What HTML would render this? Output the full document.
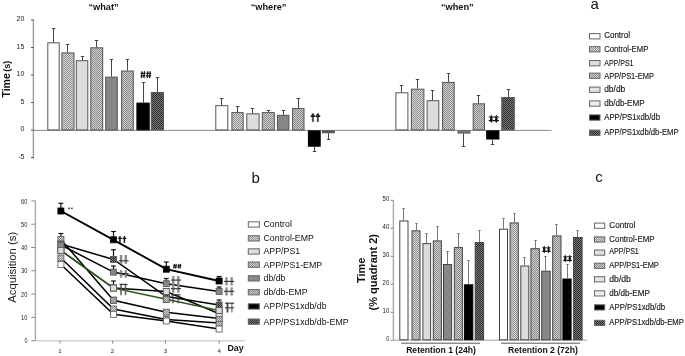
<!DOCTYPE html>
<html><head><meta charset="utf-8"><style>
html,body{margin:0;padding:0;background:#fff;}
body{width:685px;height:356px;overflow:hidden;}
svg{display:block;will-change:transform;font-family:"Liberation Sans",sans-serif;}
</style></head><body>
<svg width="685" height="356" viewBox="0 0 685 356">
<defs>
<pattern id="pL" width="2" height="2" patternUnits="userSpaceOnUse"><rect width="2" height="2" fill="#dadada"/><rect width="1" height="1" fill="#8e8e8e"/><rect x="1" y="1" width="1" height="1" fill="#8e8e8e"/></pattern>
<pattern id="pM" width="2" height="2" patternUnits="userSpaceOnUse"><rect width="2" height="2" fill="#d4d4d4"/><rect width="1" height="1" fill="#888"/><rect x="1" y="1" width="1" height="1" fill="#888"/></pattern>
<pattern id="pM2" width="2" height="2" patternUnits="userSpaceOnUse"><rect width="2" height="2" fill="#cfcfcf"/><rect width="1" height="1" fill="#858585"/><rect x="1" y="1" width="1" height="1" fill="#858585"/></pattern>
<pattern id="pD" width="2" height="2" patternUnits="userSpaceOnUse"><rect width="2" height="2" fill="#7a7a7a"/><rect width="1" height="1" fill="#2a2a2a"/><rect x="1" y="1" width="1" height="1" fill="#2a2a2a"/></pattern>
</defs>
<line x1="33.4" y1="19.5" x2="33.4" y2="158.5" stroke="#9a9a9a" stroke-width="1.4"/>
<line x1="31" y1="20" x2="33.5" y2="20" stroke="#555" stroke-width="1"/>
<text x="24.4" y="21.2" font-size="7" text-anchor="end" fill="#222">20</text>
<line x1="31" y1="47.5" x2="33.5" y2="47.5" stroke="#555" stroke-width="1"/>
<text x="24.4" y="48.7" font-size="7" text-anchor="end" fill="#222">15</text>
<line x1="31" y1="75" x2="33.5" y2="75" stroke="#555" stroke-width="1"/>
<text x="24.4" y="76.2" font-size="7" text-anchor="end" fill="#222">10</text>
<line x1="31" y1="102.5" x2="33.5" y2="102.5" stroke="#555" stroke-width="1"/>
<text x="24.4" y="103.7" font-size="7" text-anchor="end" fill="#222">5</text>
<line x1="31" y1="130" x2="33.5" y2="130" stroke="#555" stroke-width="1"/>
<text x="24.4" y="131.2" font-size="7" text-anchor="end" fill="#222">0</text>
<line x1="31" y1="157.5" x2="33.5" y2="157.5" stroke="#555" stroke-width="1"/>
<text x="24.4" y="158.7" font-size="7" text-anchor="end" fill="#222">-5</text>
<line x1="33" y1="130.4" x2="551.5" y2="130.4" stroke="#8a8a8a" stroke-width="1"/>
<text x="9.7" y="97.6" font-size="10.6" font-weight="bold" fill="#111" transform="rotate(-90 9.7 97.6)">Time<tspan font-size="9" dx="1.2">(s)</tspan></text>
<rect x="47.8" y="42.8" width="11.4" height="87.1" fill="#ffffff" stroke="#555" stroke-width="1"/>
<line x1="53.5" y1="42.3" x2="53.5" y2="28.5" stroke="#444" stroke-width="1"/>
<line x1="51.8" y1="28.5" x2="55.2" y2="28.5" stroke="#444" stroke-width="1"/>
<rect x="61.9" y="52.9" width="12.1" height="77" fill="url(#pL)" stroke="#555" stroke-width="1"/>
<line x1="67.5" y1="52.4" x2="67.5" y2="44.5" stroke="#444" stroke-width="1"/>
<line x1="65.8" y1="44.5" x2="69.2" y2="44.5" stroke="#444" stroke-width="1"/>
<rect x="76.3" y="60.7" width="11.5" height="69.2" fill="#dcdcdc" stroke="#555" stroke-width="1"/>
<line x1="82.5" y1="60.2" x2="82.5" y2="56.5" stroke="#444" stroke-width="1"/>
<line x1="80.8" y1="56.5" x2="84.2" y2="56.5" stroke="#444" stroke-width="1"/>
<rect x="90.8" y="47.8" width="11.9" height="82.1" fill="url(#pM)" stroke="#555" stroke-width="1"/>
<line x1="96.5" y1="47.3" x2="96.5" y2="40.5" stroke="#444" stroke-width="1"/>
<line x1="94.8" y1="40.5" x2="98.2" y2="40.5" stroke="#444" stroke-width="1"/>
<rect x="105.7" y="77.1" width="11.6" height="52.8" fill="#878787" stroke="#555" stroke-width="1"/>
<line x1="111.5" y1="76.6" x2="111.5" y2="59.5" stroke="#444" stroke-width="1"/>
<line x1="109.8" y1="59.5" x2="113.2" y2="59.5" stroke="#444" stroke-width="1"/>
<rect x="121.6" y="71" width="11.7" height="58.9" fill="url(#pM2)" stroke="#555" stroke-width="1"/>
<line x1="127.5" y1="70.5" x2="127.5" y2="59.5" stroke="#444" stroke-width="1"/>
<line x1="125.8" y1="59.5" x2="129.2" y2="59.5" stroke="#444" stroke-width="1"/>
<rect x="136.9" y="103.1" width="12.3" height="26.8" fill="#000000" stroke="#000" stroke-width="1"/>
<line x1="143.5" y1="102.6" x2="143.5" y2="82.5" stroke="#444" stroke-width="1"/>
<line x1="141.8" y1="82.5" x2="145.2" y2="82.5" stroke="#444" stroke-width="1"/>
<rect x="151.3" y="92.5" width="12.2" height="37.4" fill="url(#pD)" stroke="#555" stroke-width="1"/>
<line x1="157.5" y1="92" x2="157.5" y2="77.5" stroke="#444" stroke-width="1"/>
<line x1="155.8" y1="77.5" x2="159.2" y2="77.5" stroke="#444" stroke-width="1"/>
<rect x="215.8" y="105.7" width="12" height="24.2" fill="#ffffff" stroke="#555" stroke-width="1"/>
<line x1="221.5" y1="105.2" x2="221.5" y2="98.5" stroke="#444" stroke-width="1"/>
<line x1="219.8" y1="98.5" x2="223.2" y2="98.5" stroke="#444" stroke-width="1"/>
<rect x="231.9" y="112.6" width="11.3" height="17.3" fill="url(#pL)" stroke="#555" stroke-width="1"/>
<line x1="237.5" y1="112.1" x2="237.5" y2="106.5" stroke="#444" stroke-width="1"/>
<line x1="235.8" y1="106.5" x2="239.2" y2="106.5" stroke="#444" stroke-width="1"/>
<rect x="246.8" y="113.8" width="12.3" height="16.1" fill="#dcdcdc" stroke="#555" stroke-width="1"/>
<line x1="252.5" y1="113.3" x2="252.5" y2="108.5" stroke="#444" stroke-width="1"/>
<line x1="250.8" y1="108.5" x2="254.2" y2="108.5" stroke="#444" stroke-width="1"/>
<rect x="262.3" y="112.6" width="12" height="17.3" fill="url(#pM)" stroke="#555" stroke-width="1"/>
<line x1="268.5" y1="112.1" x2="268.5" y2="110.5" stroke="#444" stroke-width="1"/>
<line x1="266.8" y1="110.5" x2="270.2" y2="110.5" stroke="#444" stroke-width="1"/>
<rect x="277.5" y="115.3" width="11.4" height="14.6" fill="#878787" stroke="#555" stroke-width="1"/>
<line x1="283.5" y1="114.8" x2="283.5" y2="110.5" stroke="#444" stroke-width="1"/>
<line x1="281.8" y1="110.5" x2="285.2" y2="110.5" stroke="#444" stroke-width="1"/>
<rect x="292.6" y="108.6" width="11.4" height="21.3" fill="url(#pM2)" stroke="#555" stroke-width="1"/>
<line x1="298.5" y1="108.1" x2="298.5" y2="98.5" stroke="#444" stroke-width="1"/>
<line x1="296.8" y1="98.5" x2="300.2" y2="98.5" stroke="#444" stroke-width="1"/>
<rect x="308.4" y="130.9" width="11.8" height="15.3" fill="#000000" stroke="#000" stroke-width="1"/>
<line x1="314.5" y1="146.7" x2="314.5" y2="151.5" stroke="#444" stroke-width="1"/>
<line x1="312.8" y1="151.5" x2="316.2" y2="151.5" stroke="#444" stroke-width="1"/>
<rect x="322.5" y="130.9" width="11.8" height="1.9" fill="url(#pD)" stroke="#555" stroke-width="1"/>
<line x1="328.5" y1="133.3" x2="328.5" y2="139.5" stroke="#444" stroke-width="1"/>
<line x1="326.8" y1="139.5" x2="330.2" y2="139.5" stroke="#444" stroke-width="1"/>
<rect x="395.9" y="92.8" width="12" height="37.1" fill="#ffffff" stroke="#555" stroke-width="1"/>
<line x1="401.5" y1="92.3" x2="401.5" y2="85.5" stroke="#444" stroke-width="1"/>
<line x1="399.8" y1="85.5" x2="403.2" y2="85.5" stroke="#444" stroke-width="1"/>
<rect x="411.4" y="89.2" width="12.5" height="40.7" fill="url(#pL)" stroke="#555" stroke-width="1"/>
<line x1="417.5" y1="88.7" x2="417.5" y2="79.5" stroke="#444" stroke-width="1"/>
<line x1="415.8" y1="79.5" x2="419.2" y2="79.5" stroke="#444" stroke-width="1"/>
<rect x="427.1" y="100.7" width="11.7" height="29.2" fill="#dcdcdc" stroke="#555" stroke-width="1"/>
<line x1="432.5" y1="100.2" x2="432.5" y2="90.5" stroke="#444" stroke-width="1"/>
<line x1="430.8" y1="90.5" x2="434.2" y2="90.5" stroke="#444" stroke-width="1"/>
<rect x="442.6" y="82.4" width="11.6" height="47.5" fill="url(#pM)" stroke="#555" stroke-width="1"/>
<line x1="448.5" y1="81.9" x2="448.5" y2="73.5" stroke="#444" stroke-width="1"/>
<line x1="446.8" y1="73.5" x2="450.2" y2="73.5" stroke="#444" stroke-width="1"/>
<rect x="458" y="130.9" width="11.9" height="2.2" fill="#878787" stroke="#555" stroke-width="1"/>
<line x1="463.5" y1="133.6" x2="463.5" y2="146.5" stroke="#444" stroke-width="1"/>
<line x1="461.8" y1="146.5" x2="465.2" y2="146.5" stroke="#444" stroke-width="1"/>
<rect x="473.2" y="103.8" width="11.3" height="26.1" fill="url(#pM2)" stroke="#555" stroke-width="1"/>
<line x1="478.5" y1="103.3" x2="478.5" y2="95.5" stroke="#444" stroke-width="1"/>
<line x1="476.8" y1="95.5" x2="480.2" y2="95.5" stroke="#444" stroke-width="1"/>
<rect x="486.7" y="130.9" width="12.2" height="8.1" fill="#000000" stroke="#000" stroke-width="1"/>
<line x1="492.5" y1="139.5" x2="492.5" y2="144.5" stroke="#444" stroke-width="1"/>
<line x1="490.8" y1="144.5" x2="494.2" y2="144.5" stroke="#444" stroke-width="1"/>
<rect x="501.8" y="97.5" width="12.5" height="32.4" fill="url(#pD)" stroke="#555" stroke-width="1"/>
<line x1="508.5" y1="97" x2="508.5" y2="89.5" stroke="#444" stroke-width="1"/>
<line x1="506.8" y1="89.5" x2="510.2" y2="89.5" stroke="#444" stroke-width="1"/>
<text x="103.5" y="10.1" font-size="9.2" font-weight="bold" text-anchor="middle" fill="#111">“what”</text>
<text x="268.6" y="10.1" font-size="9.2" font-weight="bold" text-anchor="middle" fill="#111">“where”</text>
<text x="457.3" y="10.1" font-size="9.2" font-weight="bold" text-anchor="middle" fill="#111">“when”</text>
<line x1="142.16" y1="71.3" x2="141.46" y2="78.1" stroke="#111" stroke-width="1.2"/>
<line x1="144.59" y1="71.3" x2="143.89" y2="78.1" stroke="#111" stroke-width="1.2"/>
<rect x="140.6" y="72.74" width="4.85" height="1.2" fill="#111"/>
<rect x="140.6" y="75.19" width="4.85" height="1.2" fill="#111"/>
<line x1="147.81" y1="71.3" x2="147.11" y2="78.1" stroke="#111" stroke-width="1.2"/>
<line x1="150.24" y1="71.3" x2="149.54" y2="78.1" stroke="#111" stroke-width="1.2"/>
<rect x="146.25" y="72.74" width="4.85" height="1.2" fill="#111"/>
<rect x="146.25" y="75.19" width="4.85" height="1.2" fill="#111"/>
<rect x="311.9" y="113.8" width="2" height="8.1" fill="#555"/>
<rect x="310.6" y="115.4" width="4.6" height="1.6" fill="#111"/>
<rect x="311.7" y="113.6" width="2.4" height="2" fill="#222"/>
<rect x="316.9" y="113.8" width="2" height="8.1" fill="#555"/>
<rect x="315.6" y="115.4" width="4.6" height="1.6" fill="#111"/>
<rect x="316.7" y="113.6" width="2.4" height="2" fill="#222"/>
<path d="M491.3 114.5L492.5 117L492.5 120.6L491.3 123.3L490.1 120.6L490.1 117Z" fill="#111"/>
<path d="M496.3 114.5L497.5 117L497.5 120.6L496.3 123.3L495.1 120.6L495.1 117Z" fill="#111"/>
<rect x="488.7" y="116.44" width="10.2" height="1.12" fill="#333"/>
<rect x="488.7" y="119.96" width="10.2" height="1.28" fill="#111"/>
<text x="590.5" y="8.8" font-size="15" fill="#111">a</text>
<rect x="589.5" y="33.6" width="10.5" height="5.3" fill="#ffffff" stroke="#666" stroke-width="1"/>
<text x="604.2" y="38.3" font-size="8.6" fill="#1a1a1a" stroke="#1a1a1a" stroke-width="0.15" textLength="25.8" lengthAdjust="spacingAndGlyphs">Control</text>
<rect x="589.5" y="46.6" width="10.5" height="5.3" fill="url(#pL)" stroke="#666" stroke-width="1"/>
<text x="604.2" y="51.6" font-size="8.6" fill="#1a1a1a" stroke="#1a1a1a" stroke-width="0.15" textLength="44.1" lengthAdjust="spacingAndGlyphs">Control-EMP</text>
<rect x="589.5" y="60.5" width="10.5" height="5.3" fill="#dedede" stroke="#666" stroke-width="1"/>
<text x="604.2" y="65.5" font-size="8.6" fill="#1a1a1a" stroke="#1a1a1a" stroke-width="0.15" textLength="29.3" lengthAdjust="spacingAndGlyphs">APP/PS1</text>
<rect x="589.5" y="73.1" width="10.5" height="5.3" fill="url(#pM)" stroke="#666" stroke-width="1"/>
<text x="604.2" y="79" font-size="8.6" fill="#1a1a1a" stroke="#1a1a1a" stroke-width="0.15" textLength="49.7" lengthAdjust="spacingAndGlyphs">APP/PS1-EMP</text>
<rect x="589.5" y="87.1" width="10.5" height="5.3" fill="#e4e4e4" stroke="#666" stroke-width="1"/>
<text x="604.2" y="92.4" font-size="8.6" fill="#1a1a1a" stroke="#1a1a1a" stroke-width="0.15" textLength="21.1" lengthAdjust="spacingAndGlyphs">db/db</text>
<rect x="589.5" y="100.9" width="10.5" height="5.3" fill="#ececec" stroke="#666" stroke-width="1"/>
<text x="604.2" y="106" font-size="8.6" fill="#1a1a1a" stroke="#1a1a1a" stroke-width="0.15" textLength="40.4" lengthAdjust="spacingAndGlyphs">db/db-EMP</text>
<rect x="589.5" y="114.9" width="10.5" height="5.3" fill="#000" stroke="#666" stroke-width="1"/>
<text x="604.2" y="120.1" font-size="8.6" fill="#1a1a1a" stroke="#1a1a1a" stroke-width="0.15" textLength="55.8" lengthAdjust="spacingAndGlyphs">APP/PS1xdb/db</text>
<rect x="589.5" y="130.1" width="10.5" height="5.3" fill="url(#pD)" stroke="#666" stroke-width="1"/>
<text x="604.2" y="135.4" font-size="8.6" fill="#1a1a1a" stroke="#1a1a1a" stroke-width="0.15" textLength="74.4" lengthAdjust="spacingAndGlyphs">APP/PS1xdb/db-EMP</text>
<line x1="35.4" y1="200.8" x2="35.4" y2="340.7" stroke="#aaa" stroke-width="1.4"/>
<line x1="35.4" y1="340.7" x2="244.8" y2="340.7" stroke="#d2d2d2" stroke-width="1.6"/>
<line x1="31.4" y1="340.7" x2="35.4" y2="340.7" stroke="#888" stroke-width="1"/>
<text x="27.4" y="343.3" font-size="6.6" text-anchor="end" fill="#1a1a1a" textLength="3" lengthAdjust="spacingAndGlyphs">0</text>
<line x1="31.4" y1="317.4" x2="35.4" y2="317.4" stroke="#888" stroke-width="1"/>
<text x="27.4" y="320" font-size="6.6" text-anchor="end" fill="#1a1a1a" textLength="6.3" lengthAdjust="spacingAndGlyphs">10</text>
<line x1="31.4" y1="294.1" x2="35.4" y2="294.1" stroke="#888" stroke-width="1"/>
<text x="27.4" y="296.7" font-size="6.6" text-anchor="end" fill="#1a1a1a" textLength="6.3" lengthAdjust="spacingAndGlyphs">20</text>
<line x1="31.4" y1="270.8" x2="35.4" y2="270.8" stroke="#888" stroke-width="1"/>
<text x="27.4" y="273.4" font-size="6.6" text-anchor="end" fill="#1a1a1a" textLength="6.3" lengthAdjust="spacingAndGlyphs">30</text>
<line x1="31.4" y1="247.5" x2="35.4" y2="247.5" stroke="#888" stroke-width="1"/>
<text x="27.4" y="250.1" font-size="6.6" text-anchor="end" fill="#1a1a1a" textLength="6.3" lengthAdjust="spacingAndGlyphs">40</text>
<line x1="31.4" y1="224.2" x2="35.4" y2="224.2" stroke="#888" stroke-width="1"/>
<text x="27.4" y="226.8" font-size="6.6" text-anchor="end" fill="#1a1a1a" textLength="6.3" lengthAdjust="spacingAndGlyphs">50</text>
<line x1="31.4" y1="200.9" x2="35.4" y2="200.9" stroke="#888" stroke-width="1"/>
<text x="27.4" y="203.5" font-size="6.6" text-anchor="end" fill="#1a1a1a" textLength="6.3" lengthAdjust="spacingAndGlyphs">60</text>
<line x1="60" y1="340.7" x2="60" y2="343.6" stroke="#888" stroke-width="1"/>
<text x="60" y="352.8" font-size="6.2" text-anchor="middle" fill="#222">1</text>
<line x1="112.6" y1="340.7" x2="112.6" y2="343.6" stroke="#888" stroke-width="1"/>
<text x="112.6" y="352.8" font-size="6.2" text-anchor="middle" fill="#222">2</text>
<line x1="165.5" y1="340.7" x2="165.5" y2="343.6" stroke="#888" stroke-width="1"/>
<text x="165.5" y="352.8" font-size="6.2" text-anchor="middle" fill="#222">3</text>
<line x1="219.2" y1="340.7" x2="219.2" y2="343.6" stroke="#888" stroke-width="1"/>
<text x="219.2" y="352.8" font-size="6.2" text-anchor="middle" fill="#222">4</text>
<text x="227.5" y="350.9" font-size="9.6" font-weight="bold" fill="#111" textLength="16.2" lengthAdjust="spacingAndGlyphs">Day</text>
<text x="15.7" y="267.3" font-size="11.3" text-anchor="middle" fill="#222" transform="rotate(-90 15.7 267.3)">Acquisition (s)</text>
<polyline points="60.9,258 113.5,309 166.3,319.6 219.1,323.1" fill="none" stroke="#000" stroke-width="1.5"/>
<polyline points="60.9,264.5 113.5,314.3 166.3,321 219.1,329" fill="none" stroke="#000" stroke-width="1.5"/>
<polyline points="60.9,239.5 113.5,300.2 166.3,312.2 219.1,318.5" fill="none" stroke="#000" stroke-width="1.5"/>
<polyline points="60.9,250.5 113.5,288 166.3,291.6 219.1,313.7" fill="none" stroke="#000" stroke-width="1.5"/>
<polyline points="60.9,244 113.5,259.5 166.3,296.5 219.1,305" fill="none" stroke="#000" stroke-width="1.5"/>
<polyline points="60.9,250.5 113.5,288 166.3,299.3 219.1,310.5" fill="none" stroke="#2f5a1f" stroke-width="1.5"/>
<polyline points="60.9,245 113.5,272.1 166.3,283.7 219.1,291.5" fill="none" stroke="#000" stroke-width="1.5"/>
<polyline points="60.9,211 113.5,239.8 166.3,269.2 219.1,281" fill="none" stroke="#000" stroke-width="1.9"/>
<rect x="60.3" y="203.3" width="1.2" height="7.7" fill="#111"/>
<rect x="58.5" y="202.7" width="4.8" height="1.2" fill="#111"/>
<rect x="112.9" y="231.5" width="1.2" height="8.3" fill="#111"/>
<rect x="111.1" y="230.9" width="4.8" height="1.2" fill="#111"/>
<rect x="165.7" y="262" width="1.2" height="6.6" fill="#111"/>
<rect x="163.9" y="261.4" width="4.8" height="1.2" fill="#111"/>
<rect x="218.5" y="276.5" width="1.2" height="4.5" fill="#111"/>
<rect x="216.7" y="275.9" width="4.8" height="1.2" fill="#111"/>
<rect x="60.3" y="233.5" width="1.2" height="4.9" fill="#111"/>
<rect x="58.5" y="232.9" width="4.8" height="1.2" fill="#111"/>
<rect x="112.9" y="249.7" width="1.2" height="10.2" fill="#111"/>
<rect x="111.1" y="249.1" width="4.8" height="1.2" fill="#111"/>
<rect x="112.9" y="266" width="1.2" height="6.4" fill="#111"/>
<rect x="111.1" y="265.4" width="4.8" height="1.2" fill="#111"/>
<rect x="112.9" y="281" width="1.2" height="7.4" fill="#111"/>
<rect x="111.1" y="280.4" width="4.8" height="1.2" fill="#111"/>
<rect x="165.7" y="278.5" width="1.2" height="5.1" fill="#111"/>
<rect x="163.9" y="277.9" width="4.8" height="1.2" fill="#111"/>
<rect x="218.5" y="287" width="1.2" height="4.5" fill="#111"/>
<rect x="216.7" y="286.4" width="4.8" height="1.2" fill="#111"/>
<rect x="218.5" y="300" width="1.2" height="4.6" fill="#111"/>
<rect x="216.7" y="299.4" width="4.8" height="1.2" fill="#111"/>
<rect x="57.9" y="255" width="6" height="6" fill="url(#pL)" stroke="#555" stroke-width="0.8"/>
<rect x="110.5" y="306" width="6" height="6" fill="url(#pL)" stroke="#555" stroke-width="0.8"/>
<rect x="163.3" y="316.6" width="6" height="6" fill="url(#pL)" stroke="#555" stroke-width="0.8"/>
<rect x="216.1" y="320.1" width="6" height="6" fill="url(#pL)" stroke="#555" stroke-width="0.8"/>
<rect x="57.9" y="261.5" width="6" height="6" fill="#ffffff" stroke="#555" stroke-width="0.8"/>
<rect x="110.5" y="311.3" width="6" height="6" fill="#ffffff" stroke="#555" stroke-width="0.8"/>
<rect x="163.3" y="318" width="6" height="6" fill="#ffffff" stroke="#555" stroke-width="0.8"/>
<rect x="216.1" y="326" width="6" height="6" fill="#ffffff" stroke="#555" stroke-width="0.8"/>
<rect x="57.9" y="236.5" width="6" height="6" fill="url(#pM)" stroke="#555" stroke-width="0.8"/>
<rect x="110.5" y="297.2" width="6" height="6" fill="url(#pM)" stroke="#555" stroke-width="0.8"/>
<rect x="163.3" y="309.2" width="6" height="6" fill="url(#pM)" stroke="#555" stroke-width="0.8"/>
<rect x="216.1" y="315.5" width="6" height="6" fill="url(#pM)" stroke="#555" stroke-width="0.8"/>
<rect x="57.9" y="247.5" width="6" height="6" fill="#dcdcdc" stroke="#555" stroke-width="0.8"/>
<rect x="110.5" y="285" width="6" height="6" fill="#dcdcdc" stroke="#555" stroke-width="0.8"/>
<rect x="163.3" y="288.6" width="6" height="6" fill="#dcdcdc" stroke="#555" stroke-width="0.8"/>
<rect x="216.1" y="310.7" width="6" height="6" fill="#dcdcdc" stroke="#555" stroke-width="0.8"/>
<rect x="57.9" y="241" width="6" height="6" fill="url(#pD)" stroke="#555" stroke-width="0.8"/>
<rect x="110.5" y="256.5" width="6" height="6" fill="url(#pD)" stroke="#555" stroke-width="0.8"/>
<rect x="163.3" y="293.5" width="6" height="6" fill="url(#pD)" stroke="#555" stroke-width="0.8"/>
<rect x="216.1" y="302" width="6" height="6" fill="url(#pD)" stroke="#555" stroke-width="0.8"/>
<rect x="57.9" y="247.5" width="6" height="6" fill="url(#pM2)" stroke="#555" stroke-width="0.8"/>
<rect x="110.5" y="285" width="6" height="6" fill="url(#pM2)" stroke="#555" stroke-width="0.8"/>
<rect x="163.3" y="296.3" width="6" height="6" fill="url(#pM2)" stroke="#555" stroke-width="0.8"/>
<rect x="216.1" y="307.5" width="6" height="6" fill="url(#pM2)" stroke="#555" stroke-width="0.8"/>
<rect x="57.9" y="242" width="6" height="6" fill="#878787" stroke="#555" stroke-width="0.8"/>
<rect x="110.5" y="269.1" width="6" height="6" fill="#878787" stroke="#555" stroke-width="0.8"/>
<rect x="163.3" y="280.7" width="6" height="6" fill="#878787" stroke="#555" stroke-width="0.8"/>
<rect x="216.1" y="288.5" width="6" height="6" fill="#878787" stroke="#555" stroke-width="0.8"/>
<rect x="57.9" y="208" width="6" height="6" fill="#000000" stroke="#000" stroke-width="0.8"/>
<rect x="110.5" y="236.8" width="6" height="6" fill="#000000" stroke="#000" stroke-width="0.8"/>
<rect x="163.3" y="266.2" width="6" height="6" fill="#000000" stroke="#000" stroke-width="0.8"/>
<rect x="216.1" y="278" width="6" height="6" fill="#000000" stroke="#000" stroke-width="0.8"/>
<rect x="57.9" y="247.5" width="6" height="6" fill="#dcdcdc" stroke="#555" stroke-width="0.8"/>
<rect x="110.5" y="285" width="6" height="6" fill="#dcdcdc" stroke="#555" stroke-width="0.8"/>
<rect x="163.3" y="288.6" width="6" height="6" fill="#dcdcdc" stroke="#555" stroke-width="0.8"/>
<rect x="163.3" y="296.3" width="6" height="6" fill="url(#pM2)" stroke="#555" stroke-width="0.8"/>
<rect x="216.1" y="307.5" width="6" height="6" fill="#dcdcdc" stroke="#555" stroke-width="0.8"/>
<rect x="110.5" y="297.2" width="6" height="6" fill="#a2a2a2" stroke="#555" stroke-width="0.8"/>
<rect x="68.2" y="207.6" width="1.6" height="1.5" fill="#333"/>
<rect x="71.1" y="207.6" width="1.6" height="1.5" fill="#333"/>
<rect x="119.15" y="236.1" width="1.5" height="6.8" fill="#111"/>
<rect x="118" y="237.75" width="3.8" height="1.3" fill="#111"/>
<rect x="123.65" y="236.1" width="1.5" height="6.8" fill="#111"/>
<rect x="122.5" y="237.75" width="3.8" height="1.3" fill="#111"/>
<line x1="174.45" y1="263.9" x2="173.75" y2="268.6" stroke="#111" stroke-width="1"/>
<line x1="176.25" y1="263.9" x2="175.55" y2="268.6" stroke="#111" stroke-width="1"/>
<rect x="173.2" y="264.81" width="3.6" height="1" fill="#111"/>
<rect x="173.2" y="266.5" width="3.6" height="1" fill="#111"/>
<line x1="178.85" y1="263.9" x2="178.15" y2="268.6" stroke="#111" stroke-width="1"/>
<line x1="180.65" y1="263.9" x2="179.95" y2="268.6" stroke="#111" stroke-width="1"/>
<rect x="177.6" y="264.81" width="3.6" height="1" fill="#111"/>
<rect x="177.6" y="266.5" width="3.6" height="1" fill="#111"/>
<rect x="119.9" y="255" width="2.4" height="8.9" fill="#8c8c8c"/>
<rect x="124.6" y="255" width="2.4" height="8.9" fill="#8c8c8c"/>
<rect x="118.7" y="260.25" width="9.9" height="1.1" fill="#333"/>
<rect x="119.9" y="270.2" width="2.4" height="7.5" fill="#8c8c8c"/>
<rect x="124.6" y="270.2" width="2.4" height="7.5" fill="#8c8c8c"/>
<rect x="118.7" y="273.05" width="9.9" height="1.1" fill="#333"/>
<rect x="120.2" y="283.8" width="1.6" height="11.4" fill="#666"/>
<rect x="124.7" y="283.8" width="1.6" height="11.4" fill="#666"/>
<rect x="119.4" y="283.85" width="8.1" height="1.1" fill="#333"/>
<rect x="119.4" y="288.45" width="8.1" height="1.1" fill="#333"/>
<rect x="172.1" y="276.1" width="2.4" height="16.6" fill="#8c8c8c"/>
<rect x="177.1" y="276.1" width="2.4" height="16.6" fill="#8c8c8c"/>
<rect x="171" y="279.55" width="10" height="1.1" fill="#333"/>
<rect x="171" y="288.15" width="10" height="1.1" fill="#333"/>
<rect x="172.4" y="294.2" width="1.2" height="9.1" fill="#444"/>
<rect x="177.5" y="294.2" width="1.2" height="9.1" fill="#444"/>
<rect x="171" y="294.25" width="9.5" height="1.1" fill="#333"/>
<rect x="225.3" y="277.1" width="2.4" height="8.3" fill="#8c8c8c"/>
<rect x="230.4" y="277.1" width="2.4" height="8.3" fill="#8c8c8c"/>
<rect x="224" y="280.85" width="10.2" height="1.1" fill="#333"/>
<rect x="225.3" y="287.4" width="2.4" height="8.2" fill="#8c8c8c"/>
<rect x="230.4" y="287.4" width="2.4" height="8.2" fill="#8c8c8c"/>
<rect x="224" y="290.75" width="10.2" height="1.1" fill="#333"/>
<rect x="226.6" y="302.7" width="1.8" height="9.8" fill="#444"/>
<rect x="230.9" y="302.7" width="1.8" height="9.8" fill="#999"/>
<rect x="225" y="302.65" width="9.1" height="1.1" fill="#333"/>
<rect x="225" y="307.25" width="9.1" height="1.1" fill="#333"/>
<text x="251.6" y="182.8" font-size="15" fill="#111">b</text>
<rect x="248.3" y="221.8" width="11" height="5.3" fill="#ffffff" stroke="#666" stroke-width="1"/>
<text x="263.5" y="227.4" font-size="8.8" fill="#111">Control</text>
<rect x="248.3" y="235.7" width="11" height="5.3" fill="url(#pL)" stroke="#666" stroke-width="1"/>
<text x="263.5" y="241.3" font-size="8.8" fill="#111">Control-EMP</text>
<rect x="248.3" y="248.8" width="11" height="5.3" fill="#dedede" stroke="#666" stroke-width="1"/>
<text x="263.5" y="254.4" font-size="8.8" fill="#111">APP/PS1</text>
<rect x="248.3" y="262" width="11" height="5.3" fill="url(#pM)" stroke="#666" stroke-width="1"/>
<text x="263.5" y="267.6" font-size="8.8" fill="#111">APP/PS1-EMP</text>
<rect x="248.3" y="275.7" width="11" height="5.3" fill="#8a8a8a" stroke="#666" stroke-width="1"/>
<text x="263.5" y="281.3" font-size="8.8" fill="#111">db/db</text>
<rect x="248.3" y="289.6" width="11" height="5.3" fill="url(#pM2)" stroke="#666" stroke-width="1"/>
<text x="263.5" y="295.2" font-size="8.8" fill="#111">db/db-EMP</text>
<rect x="248.3" y="303.8" width="11" height="5.3" fill="#000" stroke="#666" stroke-width="1"/>
<text x="263.5" y="309.4" font-size="8.8" fill="#111">APP/PS1xdb/db</text>
<rect x="248.3" y="319" width="11" height="5.3" fill="url(#pD)" stroke="#666" stroke-width="1"/>
<text x="263.5" y="324.6" font-size="8.8" fill="#111">APP/PS1xdb/db-EMP</text>
<line x1="393.4" y1="200.3" x2="393.4" y2="340.3" stroke="#aaa" stroke-width="1.4"/>
<line x1="393.4" y1="340.3" x2="587" y2="340.3" stroke="#c0c0c0" stroke-width="1.5"/>
<line x1="390.5" y1="340.3" x2="393.4" y2="340.3" stroke="#888" stroke-width="1"/>
<text x="389.2" y="340.8" font-size="6.6" text-anchor="end" fill="#1a1a1a" textLength="3" lengthAdjust="spacingAndGlyphs">0</text>
<line x1="390.5" y1="312.3" x2="393.4" y2="312.3" stroke="#888" stroke-width="1"/>
<text x="389.2" y="312.8" font-size="6.6" text-anchor="end" fill="#1a1a1a" textLength="6.6" lengthAdjust="spacingAndGlyphs">10</text>
<line x1="390.5" y1="284.3" x2="393.4" y2="284.3" stroke="#888" stroke-width="1"/>
<text x="389.2" y="284.8" font-size="6.6" text-anchor="end" fill="#1a1a1a" textLength="6.6" lengthAdjust="spacingAndGlyphs">20</text>
<line x1="390.5" y1="256.3" x2="393.4" y2="256.3" stroke="#888" stroke-width="1"/>
<text x="389.2" y="256.8" font-size="6.6" text-anchor="end" fill="#1a1a1a" textLength="6.6" lengthAdjust="spacingAndGlyphs">30</text>
<line x1="390.5" y1="228.3" x2="393.4" y2="228.3" stroke="#888" stroke-width="1"/>
<text x="389.2" y="228.8" font-size="6.6" text-anchor="end" fill="#1a1a1a" textLength="6.6" lengthAdjust="spacingAndGlyphs">40</text>
<line x1="390.5" y1="200.3" x2="393.4" y2="200.3" stroke="#888" stroke-width="1"/>
<text x="389.2" y="200.8" font-size="6.6" text-anchor="end" fill="#1a1a1a" textLength="6.6" lengthAdjust="spacingAndGlyphs">50</text>
<rect x="399.8" y="221" width="8.2" height="118.8" fill="#ffffff" stroke="#444" stroke-width="1"/>
<line x1="403.5" y1="220.5" x2="403.5" y2="208.5" stroke="#777" stroke-width="1"/>
<line x1="402.3" y1="208.5" x2="404.7" y2="208.5" stroke="#777" stroke-width="1"/>
<rect x="412" y="230.8" width="8" height="109" fill="url(#pL)" stroke="#444" stroke-width="1"/>
<line x1="416.5" y1="230.3" x2="416.5" y2="223.5" stroke="#777" stroke-width="1"/>
<line x1="415.3" y1="223.5" x2="417.7" y2="223.5" stroke="#777" stroke-width="1"/>
<rect x="422.9" y="243.6" width="7.7" height="96.2" fill="#dcdcdc" stroke="#444" stroke-width="1"/>
<line x1="426.5" y1="243.1" x2="426.5" y2="233.5" stroke="#777" stroke-width="1"/>
<line x1="425.3" y1="233.5" x2="427.7" y2="233.5" stroke="#777" stroke-width="1"/>
<rect x="433.3" y="240.9" width="8.1" height="98.9" fill="url(#pM)" stroke="#444" stroke-width="1"/>
<line x1="437.5" y1="240.4" x2="437.5" y2="226.5" stroke="#777" stroke-width="1"/>
<line x1="436.3" y1="226.5" x2="438.7" y2="226.5" stroke="#777" stroke-width="1"/>
<rect x="443.5" y="264.5" width="8.1" height="75.3" fill="#878787" stroke="#444" stroke-width="1"/>
<line x1="447.5" y1="264" x2="447.5" y2="251.5" stroke="#777" stroke-width="1"/>
<line x1="446.3" y1="251.5" x2="448.7" y2="251.5" stroke="#777" stroke-width="1"/>
<rect x="454.3" y="247.6" width="8.1" height="92.2" fill="url(#pM2)" stroke="#444" stroke-width="1"/>
<line x1="458.5" y1="247.1" x2="458.5" y2="233.5" stroke="#777" stroke-width="1"/>
<line x1="457.3" y1="233.5" x2="459.7" y2="233.5" stroke="#777" stroke-width="1"/>
<rect x="464.4" y="284.8" width="8.4" height="55" fill="#000000" stroke="#000" stroke-width="1"/>
<line x1="468.5" y1="284.3" x2="468.5" y2="260.5" stroke="#777" stroke-width="1"/>
<line x1="467.3" y1="260.5" x2="469.7" y2="260.5" stroke="#777" stroke-width="1"/>
<rect x="475.2" y="242.6" width="8.4" height="97.2" fill="url(#pD)" stroke="#444" stroke-width="1"/>
<line x1="479.5" y1="242.1" x2="479.5" y2="230.5" stroke="#777" stroke-width="1"/>
<line x1="478.3" y1="230.5" x2="480.7" y2="230.5" stroke="#777" stroke-width="1"/>
<rect x="499.5" y="229.2" width="8" height="110.6" fill="#ffffff" stroke="#444" stroke-width="1"/>
<line x1="503.5" y1="228.7" x2="503.5" y2="218.5" stroke="#777" stroke-width="1"/>
<line x1="502.3" y1="218.5" x2="504.7" y2="218.5" stroke="#777" stroke-width="1"/>
<rect x="510.1" y="222.9" width="8.2" height="116.9" fill="url(#pL)" stroke="#444" stroke-width="1"/>
<line x1="514.5" y1="222.4" x2="514.5" y2="213.5" stroke="#777" stroke-width="1"/>
<line x1="513.3" y1="213.5" x2="515.7" y2="213.5" stroke="#777" stroke-width="1"/>
<rect x="520.8" y="266" width="8" height="73.8" fill="#dcdcdc" stroke="#444" stroke-width="1"/>
<line x1="524.5" y1="265.5" x2="524.5" y2="257.5" stroke="#777" stroke-width="1"/>
<line x1="523.3" y1="257.5" x2="525.7" y2="257.5" stroke="#777" stroke-width="1"/>
<rect x="530.9" y="248.7" width="8.5" height="91.1" fill="url(#pM)" stroke="#444" stroke-width="1"/>
<line x1="535.5" y1="248.2" x2="535.5" y2="240.5" stroke="#777" stroke-width="1"/>
<line x1="534.3" y1="240.5" x2="536.7" y2="240.5" stroke="#777" stroke-width="1"/>
<rect x="541.7" y="271.2" width="8.5" height="68.6" fill="#878787" stroke="#444" stroke-width="1"/>
<line x1="545.5" y1="270.7" x2="545.5" y2="256.5" stroke="#777" stroke-width="1"/>
<line x1="544.3" y1="256.5" x2="546.7" y2="256.5" stroke="#777" stroke-width="1"/>
<rect x="552.7" y="235.9" width="8.3" height="103.9" fill="url(#pM2)" stroke="#444" stroke-width="1"/>
<line x1="556.5" y1="235.4" x2="556.5" y2="224.5" stroke="#777" stroke-width="1"/>
<line x1="555.3" y1="224.5" x2="557.7" y2="224.5" stroke="#777" stroke-width="1"/>
<rect x="562.9" y="279" width="8.2" height="60.8" fill="#000000" stroke="#000" stroke-width="1"/>
<line x1="567.5" y1="278.5" x2="567.5" y2="264.5" stroke="#777" stroke-width="1"/>
<line x1="566.3" y1="264.5" x2="568.7" y2="264.5" stroke="#777" stroke-width="1"/>
<rect x="573.6" y="237.5" width="8.5" height="102.3" fill="url(#pD)" stroke="#444" stroke-width="1"/>
<line x1="577.5" y1="237" x2="577.5" y2="230.5" stroke="#777" stroke-width="1"/>
<line x1="576.3" y1="230.5" x2="578.7" y2="230.5" stroke="#777" stroke-width="1"/>
<line x1="401.2" y1="343.2" x2="480" y2="343.2" stroke="#444" stroke-width="0.9"/>
<line x1="501" y1="343.2" x2="580.2" y2="343.2" stroke="#444" stroke-width="0.9"/>
<text x="441" y="352.6" font-size="8.6" font-weight="bold" text-anchor="middle" fill="#111">Retention 1 (24h)</text>
<text x="542.9" y="352.6" font-size="8.6" font-weight="bold" text-anchor="middle" fill="#111">Retention 2 (72h)</text>
<path d="M544.2 245.6L545.3 247.8L545.3 251.3L544.2 253.4L543.1 251.3L543.1 247.8Z" fill="#111"/>
<path d="M548.6 245.6L549.7 247.8L549.7 251.3L548.6 253.4L547.5 251.3L547.5 247.8Z" fill="#111"/>
<rect x="542.3" y="247.31" width="8.5" height="0.98" fill="#333"/>
<rect x="542.3" y="250.74" width="8.5" height="1.12" fill="#111"/>
<path d="M565.2 254.5L566.3 256.7L566.3 260.4L565.2 262.5L564.1 260.4L564.1 256.7Z" fill="#111"/>
<path d="M569.8 254.5L570.9 256.7L570.9 260.4L569.8 262.5L568.7 260.4L568.7 256.7Z" fill="#111"/>
<rect x="563.2" y="256.21" width="8.6" height="0.98" fill="#333"/>
<rect x="563.2" y="259.84" width="8.6" height="1.12" fill="#111"/>
<text x="365" y="270.3" font-size="11" font-weight="bold" text-anchor="middle" fill="#111" transform="rotate(-90 365 270.3)">Time</text>
<text x="377.5" y="272.2" font-size="11" font-weight="bold" text-anchor="middle" fill="#111" transform="rotate(-90 377.5 272.2)">(% quadrant 2)</text>
<text x="595.2" y="181.9" font-size="15" fill="#111">c</text>
<rect x="594.5" y="223.1" width="10.2" height="5.2" fill="#ffffff" stroke="#666" stroke-width="1"/>
<text x="609.3" y="228.1" font-size="8.3" fill="#1a1a1a" stroke="#1a1a1a" stroke-width="0.15" textLength="26.1" lengthAdjust="spacingAndGlyphs">Control</text>
<rect x="594.5" y="236.9" width="10.2" height="5.2" fill="url(#pL)" stroke="#666" stroke-width="1"/>
<text x="609.3" y="241.6" font-size="8.3" fill="#1a1a1a" stroke="#1a1a1a" stroke-width="0.15" textLength="45.2" lengthAdjust="spacingAndGlyphs">Control-EMP</text>
<rect x="594.5" y="250" width="10.2" height="5.2" fill="#dedede" stroke="#666" stroke-width="1"/>
<text x="609.3" y="254.4" font-size="8.3" fill="#1a1a1a" stroke="#1a1a1a" stroke-width="0.15" textLength="29.5" lengthAdjust="spacingAndGlyphs">APP/PS1</text>
<rect x="594.5" y="263.2" width="10.2" height="5.2" fill="url(#pM)" stroke="#666" stroke-width="1"/>
<text x="609.3" y="267.5" font-size="8.3" fill="#1a1a1a" stroke="#1a1a1a" stroke-width="0.15" textLength="49.5" lengthAdjust="spacingAndGlyphs">APP/PS1-EMP</text>
<rect x="594.5" y="276.7" width="10.2" height="5.2" fill="#e4e4e4" stroke="#666" stroke-width="1"/>
<text x="609.3" y="281.8" font-size="8.3" fill="#1a1a1a" stroke="#1a1a1a" stroke-width="0.15" textLength="21.6" lengthAdjust="spacingAndGlyphs">db/db</text>
<rect x="594.5" y="290.8" width="10.2" height="5.2" fill="#ececec" stroke="#666" stroke-width="1"/>
<text x="609.3" y="296.1" font-size="8.3" fill="#1a1a1a" stroke="#1a1a1a" stroke-width="0.15" textLength="40.6" lengthAdjust="spacingAndGlyphs">db/db-EMP</text>
<rect x="594.5" y="304.8" width="10.2" height="5.2" fill="#000" stroke="#666" stroke-width="1"/>
<text x="609.3" y="309.9" font-size="8.3" fill="#1a1a1a" stroke="#1a1a1a" stroke-width="0.15" textLength="55.8" lengthAdjust="spacingAndGlyphs">APP/PS1xdb/db</text>
<rect x="594.5" y="320.3" width="10.2" height="5.2" fill="url(#pD)" stroke="#666" stroke-width="1"/>
<text x="609.3" y="324.7" font-size="8.3" fill="#1a1a1a" stroke="#1a1a1a" stroke-width="0.15" textLength="74.6" lengthAdjust="spacingAndGlyphs">APP/PS1xdb/db-EMP</text>
</svg>
</body></html>
